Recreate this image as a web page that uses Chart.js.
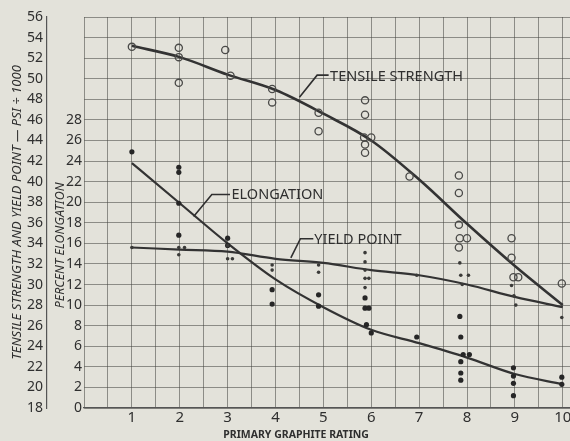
<!DOCTYPE html>
<html>
<head>
<meta charset="utf-8">
<script src="https://cdn.jsdelivr.net/npm/chart.js@4.4.1/dist/chart.umd.min.js"></script>
<style>
  html, body { margin: 0; padding: 0; overflow: hidden; background: #e3e2da; }
  #wrap { width: 592px; height: 441px; }
</style>
</head>
<body>
<div id="wrap"><canvas id="graphiteChart" width="592" height="441"></canvas></div>
<script>
// Primary graphite rating vs. tensile strength, yield point and elongation
const ratings = [1, 2, 3, 4, 5, 6, 7, 8, 9, 10];
const ksiLabels = [18, 20, 22, 24, 26, 28, 30, 32, 34, 36, 38, 40, 42, 44, 46, 48, 50, 52, 54, 56];
const elongationLabels = [0, 2, 4, 6, 8, 10, 12, 14, 16, 18, 20, 22, 24, 26, 28];

// faired curves (read at each rating)
const tensileCurve = [53.2, 52.1, 50.4, 48.9, 46.6, 44.0, 40.2, 35.9, 31.8, 28.0];
const yieldCurve = [33.6, 33.4, 33.2, 32.5, 32.1, 31.4, 30.9, 30.0, 28.8, 27.8];
const elongationCurve = [23.8, 19.9, 16.0, 12.5, 9.8, 7.6, 6.3, 4.9, 3.3, 2.3];

// individual test results [rating, value]
const tensileTests = [
  [1.0, 53.1], [1.98, 53.0], [1.98, 52.1], [1.98, 49.6], [2.95, 52.8], [3.06, 50.3],
  [3.93, 49.0], [3.93, 47.7], [4.9, 46.7], [4.9, 44.9], [5.87, 47.9], [5.87, 46.5],
  [5.85, 44.3], [6.0, 44.3], [5.87, 43.6], [5.87, 42.8], [6.8, 40.5], [7.83, 40.6],
  [7.83, 38.9], [7.83, 35.8], [7.85, 34.5], [8.0, 34.5], [7.83, 33.6], [8.93, 34.5],
  [8.93, 32.6], [8.97, 30.7], [9.07, 30.7], [9.98, 30.1]
];
const yieldTests = [
  [1.0, 33.6], [1.98, 33.6], [2.1, 33.6], [1.98, 32.9], [3.0, 33.8], [3.0, 32.5], [3.1, 32.5],
  [3.93, 31.9], [3.93, 31.4], [4.9, 31.9], [4.9, 31.2], [5.87, 33.1], [5.87, 32.2],
  [5.87, 31.4], [5.87, 30.6], [5.95, 30.6], [5.87, 29.7], [6.95, 30.9], [7.85, 32.1],
  [7.87, 30.9], [8.03, 30.9], [7.9, 30.0], [8.93, 29.9], [8.98, 28.9], [9.02, 28.0], [9.98, 26.8]
];
const elongationTests = [
  [1.0, 24.9], [1.98, 23.4], [1.98, 22.9], [1.98, 19.9], [1.98, 16.8], [3.0, 16.5], [3.0, 15.8],
  [3.93, 11.5], [3.93, 10.1], [4.9, 11.0], [4.9, 9.9], [5.87, 10.7], [5.87, 9.7], [5.95, 9.7],
  [5.9, 8.1], [6.0, 7.3], [6.95, 6.9], [7.85, 8.9], [7.87, 6.9], [7.92, 5.2], [8.05, 5.2],
  [7.87, 4.5], [7.87, 3.4], [7.87, 2.7], [8.97, 3.9], [8.97, 3.1], [8.97, 2.4], [8.97, 1.2],
  [9.98, 3.0], [9.98, 2.3]
];

// curve call-outs: text anchor and leader line, in rating / psi units
const curveNotes = [
  { text: 'TENSILE STRENGTH', at: [5.14, 50.2], leader: [[4.5, 48.2], [4.87, 50.35], [5.11, 50.35]] },
  { text: 'ELONGATION', at: [3.08, 38.7], leader: [[2.29, 36.6], [2.67, 38.75], [3.05, 38.75]] },
  { text: 'YIELD POINT', at: [4.81, 34.3], leader: [[4.32, 32.6], [4.52, 34.45], [4.79, 34.45]] }
];

const ink = '#2f2f2f';
const gridInk = 'rgba(70, 70, 66, 0.55)';
Chart.defaults.font.family = "'Noto Sans', sans-serif";
Chart.defaults.color = ink;

const toXY = (pairs) => pairs.map(p => ({ x: p[0], y: p[1] }));
const curveXY = (vals) => ratings.map((r, i) => ({ x: r, y: vals[i] }));

// paper background
const paperPlugin = {
  id: 'paper',
  beforeDraw(chart) {
    const ctx = chart.ctx;
    ctx.save();
    ctx.fillStyle = '#e3e2da';
    ctx.fillRect(0, 0, chart.width, chart.height);
    ctx.restore();
  }
};

// labels on the curves plus the two hand-placed axis captions
const notesPlugin = {
  id: 'notes',
  afterDatasetsDraw(chart) {
    const { ctx, chartArea } = chart;
    const x = chart.scales.x, y = chart.scales.y, e = chart.scales.e;
    ctx.save();
    ctx.strokeStyle = ink;
    ctx.fillStyle = ink;
    ctx.lineWidth = 1.6;
    ctx.font = "14.5px 'Noto Sans'";
    ctx.textBaseline = 'middle';
    ctx.textAlign = 'left';
    curveNotes.forEach(n => {
      ctx.beginPath();
      n.leader.forEach((p, i) => {
        const px = x.getPixelForValue(p[0]), py = y.getPixelForValue(p[1]);
        if (i === 0) ctx.moveTo(px, py); else ctx.lineTo(px, py);
      });
      ctx.stroke();
      ctx.fillText(n.text, x.getPixelForValue(n.at[0]), y.getPixelForValue(n.at[1]));
    });

    // x axis caption
    ctx.font = "bold 10.5px 'Noto Sans'";
    ctx.textAlign = 'center';
    ctx.fillText('PRIMARY GRAPHITE RATING', x.getPixelForValue(4.43), chartArea.bottom + 27);

    // elongation caption, sits between the two left scales
    ctx.font = "italic 12.5px 'Noto Sans'";
    ctx.translate(e.left + 13, e.getPixelForValue(15.8));
    ctx.rotate(-Math.PI / 2);
    ctx.fillText('PERCENT ELONGATION', 0, 0);
    ctx.restore();
  }
};

function createGraphiteChart() {
  const ctx = document.getElementById('graphiteChart').getContext('2d');

  const data = {
    datasets: [
      {
        label: 'Tensile strength tests',
        data: toXY(tensileTests),
        yAxisID: 'y',
        showLine: false,
        pointStyle: 'circle',
        pointRadius: 3.6,
        pointBorderWidth: 1.3,
        pointBorderColor: '#4a4a48',
        pointBackgroundColor: 'rgba(0,0,0,0)'
      },
      {
        label: 'Yield point tests',
        data: toXY(yieldTests),
        yAxisID: 'y',
        showLine: false,
        pointRadius: 1.8,
        pointBorderWidth: 0,
        pointBackgroundColor: '#3a3a38'
      },
      {
        label: 'Elongation tests',
        data: toXY(elongationTests),
        yAxisID: 'e',
        showLine: false,
        pointRadius: 2.6,
        pointBorderWidth: 0,
        pointBackgroundColor: '#262626'
      },
      {
        label: 'Tensile strength',
        data: curveXY(tensileCurve),
        yAxisID: 'y',
        borderColor: '#333',
        borderWidth: 2.6,
        pointRadius: 0,
        cubicInterpolationMode: 'monotone'
      },
      {
        label: 'Yield point',
        data: curveXY(yieldCurve),
        yAxisID: 'y',
        borderColor: '#333',
        borderWidth: 2.2,
        pointRadius: 0,
        cubicInterpolationMode: 'monotone'
      },
      {
        label: 'Elongation',
        data: curveXY(elongationCurve),
        yAxisID: 'e',
        borderColor: '#333',
        borderWidth: 2.2,
        pointRadius: 0,
        cubicInterpolationMode: 'monotone'
      }
    ]
  };

  const config = {
    type: 'line',
    data: data,
    plugins: [paperPlugin, notesPlugin],
    options: {
      responsive: false,
      animation: false,
      devicePixelRatio: 1,
      layout: { padding: { top: 17, right: 0, bottom: 0, left: 0 } },
      plugins: {
        legend: { display: false },
        tooltip: { enabled: false }
      },
      scales: {
        x: {
          type: 'linear',
          min: 0,
          max: 10.5,
          afterBuildTicks: (scale) => {
            scale.ticks = [];
            for (let v = 0; v <= 10.5; v += 0.5) scale.ticks.push({ value: v });
          },
          afterFit: (scale) => { scale.height = 33; },
          ticks: {
            autoSkip: false,
            maxRotation: 0,
            padding: 1,
            font: { size: 15 },
            color: ink,
            callback: (v) => ratings.includes(v) ? String(v) : ''
          },
          grid: { color: gridInk, lineWidth: 1, drawTicks: false },
          border: { color: '#555', width: 1.2 }
        },
        y: {
          position: 'left',
          weight: 2,
          min: 18,
          max: 56,
          afterFit: (scale) => { scale.width = 47; },
          ticks: {
            stepSize: 2,
            autoSkip: false,
            padding: 4,
            font: { size: 14 },
            color: ink,
            callback: (v) => ksiLabels.includes(v) ? String(v) : ''
          },
          grid: { color: gridInk, lineWidth: 1, drawTicks: false },
          border: { color: '#555', width: 1.2 },
          title: {
            display: true,
            text: 'TENSILE STRENGTH AND YIELD POINT \u2014 PSI \u00f7 1000',
            font: { size: 13, style: 'italic' },
            color: ink,
            padding: { top: 9, bottom: 0 }
          }
        },
        e: {
          position: 'left',
          weight: 1,
          min: 0,
          max: 38,
          afterFit: (scale) => { scale.width = 37; },
          ticks: {
            stepSize: 2,
            autoSkip: false,
            padding: 2,
            font: { size: 14 },
            color: ink,
            callback: (v) => elongationLabels.includes(v) ? String(v) : ''
          },
          grid: { display: false, drawTicks: false },
          border: { display: false }
        }
      }
    }
  };

  new Chart(ctx, config);
}

window.onload = function() {
  createGraphiteChart();
};
</script>
</body>
</html>
